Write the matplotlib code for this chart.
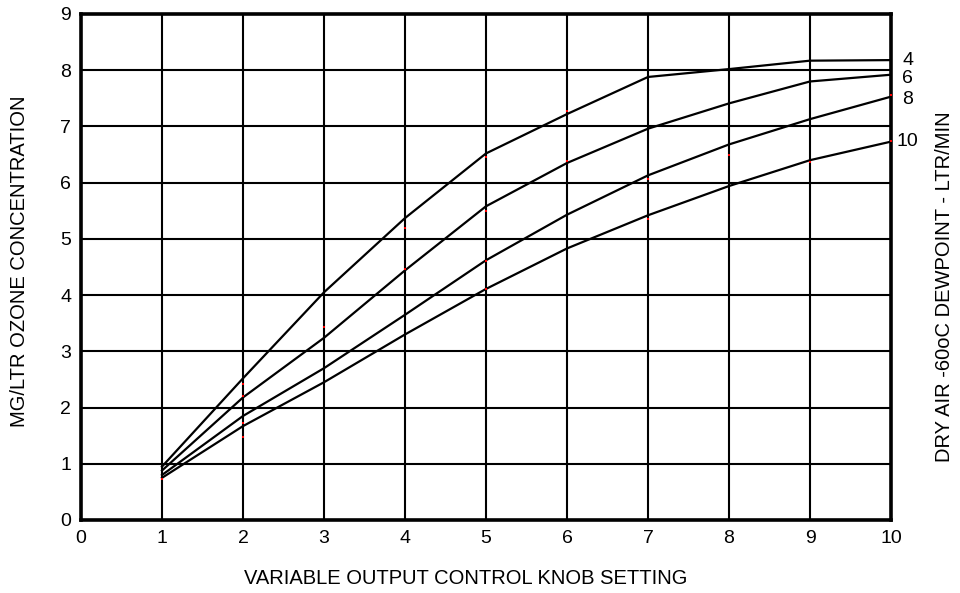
import numpy as np
import matplotlib
matplotlib.use("Agg")
import matplotlib.pyplot as plt

plt.rcParams['font.family'] = ['Liberation Sans', 'DejaVu Sans']

# knob settings and ozone output (mg/ltr) for each air flow (ltr/min)
knob = [1, 2, 3, 4, 5, 6, 7, 8, 9, 10]
flow_labels = ['4', '6', '8', '10']
ozone_4 = [0.95, 2.52, 4.05, 5.37, 6.52, 7.22, 7.88, 8.02, 8.17, 8.18]
ozone_6 = [0.88, 2.18, 3.24, 4.44, 5.58, 6.35, 6.96, 7.41, 7.80, 7.92]
ozone_8 = [0.80, 1.85, 2.70, 3.65, 4.62, 5.43, 6.13, 6.68, 7.13, 7.53]
ozone_10 = [0.75, 1.67, 2.45, 3.30, 4.11, 4.83, 5.42, 5.94, 6.40, 6.73]

# measured points (small red marks)
meas_x = [1, 2, 2, 2, 2, 3, 4, 4, 5, 5, 5, 5, 6, 6, 7, 7, 8, 9, 10, 10]
meas_y = [0.73, 2.42, 2.20, 1.73, 1.48, 3.44, 5.20, 4.47, 6.45, 5.50,
          4.60, 4.10, 7.28, 6.39, 6.07, 5.36, 6.50, 6.36, 7.56, 6.75]

fig = plt.figure(figsize=(9.6, 5.93), dpi=100)
ax = fig.add_axes([81 / 960, 1 - 520 / 593, 810 / 960, 506 / 593])

ax.set_xlim(0, 10)
ax.set_ylim(0, 9)
ax.set_xticks(range(0, 11))
ax.set_yticks(range(0, 10))
ax.grid(True, color='black', linewidth=1.5)
ax.set_axisbelow(True)
ax.tick_params(length=0, labelsize=14, pad=7)
for s in ax.spines.values():
    s.set_linewidth(2.6)

series = [ozone_4, ozone_6, ozone_8, ozone_10]
label_dy = [0, -4, -3, 0]  # nudge in pixels so the labels don't overlap
for vals, lab, dy in zip(series, flow_labels, label_dy):
    ax.plot(knob, vals, color='black', linewidth=1.6, zorder=3)
    ax.annotate(lab, xy=(knob[-1], vals[-1]), xytext=(12, dy * 0.72),
                textcoords='offset points', ha='center', va='center',
                fontsize=14, annotation_clip=False)

ax.scatter(meas_x, meas_y, s=3.5, color='red', marker='s', linewidths=0, zorder=4)

fig.text(20 / 960, 1 - 261 / 593, 'MG/LTR OZONE CONCENTRATION', rotation=90,
         ha='center', va='center', fontsize=14.5)
fig.text(466 / 960, 1 - 578 / 593, 'VARIABLE OUTPUT CONTROL KNOB SETTING',
         ha='center', va='center', fontsize=14.5)
fig.text(945 / 960, 1 - 287 / 593, 'DRY AIR -60oC DEWPOINT - LTR/MIN', rotation=90,
         ha='center', va='center', fontsize=14.5)

fig.savefig('out.png', dpi=100)
